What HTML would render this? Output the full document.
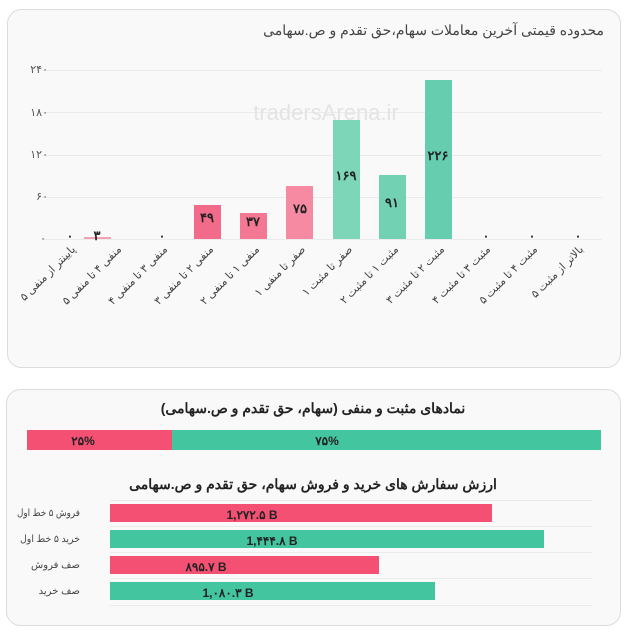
<!DOCTYPE html>
<html><head><meta charset="utf-8"><style>
body{margin:0;background:#fff;width:627px;height:632px;overflow:hidden}
svg text{font-family:"Liberation Sans","Noto Sans CJK SC",sans-serif}
</style></head><body>
<svg width="627" height="632" xmlns="http://www.w3.org/2000/svg">
<rect x="7.5" y="9.5" width="613" height="358" rx="14" fill="#f9f9f9" stroke="#dcdcdc"/>
<text x="604" y="35" font-size="14" fill="#444" text-anchor="end">محدوده قیمتی آخرین معاملات سهام،حق تقدم و ص.سهامی</text>
<g stroke="#ebebeb" stroke-width="1">
<line x1="42" y1="70.5" x2="602" y2="70.5"/><line x1="42" y1="112.5" x2="602" y2="112.5"/>
<line x1="42" y1="155.5" x2="602" y2="155.5"/><line x1="42" y1="197.5" x2="602" y2="197.5"/>
<line x1="42" y1="239.5" x2="602" y2="239.5"/></g>
<g font-size="11" fill="#555" text-anchor="end">
<text x="48" y="73">۲۴۰</text><text x="48" y="116">۱۸۰</text><text x="48" y="158">۱۲۰</text><text x="48" y="200">۶۰</text><text x="46" y="242">۰</text></g>
<text x="326" y="120" font-size="22" fill="#e4e4e4" text-anchor="middle">tradersArena.ir</text>
<rect x="84" y="237" width="27" height="2" fill="#f2a0b3"/>
<rect x="194" y="205" width="27" height="34" fill="#f26b8a"/>
<rect x="240" y="213" width="27" height="26" fill="#f47894"/>
<rect x="286" y="186" width="27" height="53" fill="#f78aa3"/>
<rect x="333" y="120" width="27" height="119" fill="#7dd6b8"/>
<rect x="379" y="175" width="27" height="64" fill="#72d1b3"/>
<rect x="425" y="80" width="27" height="159" fill="#66cdaf"/>
<g font-size="13" font-weight="bold" fill="#222" text-anchor="middle">
<text x="97" y="240">۳</text><text x="207" y="222">۴۹</text><text x="253" y="226">۳۷</text>
<text x="300" y="213">۷۵</text><text x="346" y="180">۱۶۹</text><text x="392" y="207">۹۱</text><text x="438" y="160">۲۲۶</text>
</g>
<g font-size="12" font-weight="bold" fill="#222" text-anchor="middle">
<text x="70" y="240">۰</text><text x="162" y="240">۰</text><text x="486" y="240">۰</text><text x="532" y="240">۰</text><text x="578" y="240">۰</text></g>
<g font-size="11" fill="#444" text-anchor="end">
<text transform="translate(76,250) rotate(-45)">پایینتر از منفی ۵</text>
<text transform="translate(122,250) rotate(-45)">منفی ۴ تا منفی ۵</text>
<text transform="translate(168,250) rotate(-45)">منفی ۳ تا منفی ۴</text>
<text transform="translate(214,250) rotate(-45)">منفی ۲ تا منفی ۳</text>
<text transform="translate(260,250) rotate(-45)">منفی ۱ تا منفی ۲</text>
<text transform="translate(306,250) rotate(-45)">صفر تا منفی ۱</text>
<text transform="translate(353,250) rotate(-45)">صفر تا مثبت ۱</text>
<text transform="translate(399,250) rotate(-45)">مثبت ۱ تا مثبت ۲</text>
<text transform="translate(445,250) rotate(-45)">مثبت ۲ تا مثبت ۳</text>
<text transform="translate(491,250) rotate(-45)">مثبت ۳ تا مثبت ۴</text>
<text transform="translate(538,250) rotate(-45)">مثبت ۴ تا مثبت ۵</text>
<text transform="translate(584,250) rotate(-45)">بالاتر از مثبت ۵</text>
</g>
<rect x="6.5" y="389.5" width="614" height="236" rx="14" fill="#f9f9f9" stroke="#dcdcdc"/>
<text x="313" y="413" font-size="14" font-weight="bold" fill="#222" text-anchor="middle">نمادهای مثبت و منفی (سهام، حق تقدم و ص.سهامی)</text>
<rect x="27" y="430" width="145" height="20" fill="#f45073"/>
<rect x="172" y="430" width="429" height="20" fill="#43c59f"/>
<text x="83" y="445" font-size="12" font-weight="bold" fill="#222" text-anchor="middle">۲۵%</text>
<text x="327" y="445" font-size="12" font-weight="bold" fill="#222" text-anchor="middle">۷۵%</text>
<text x="313" y="489" font-size="14" font-weight="bold" fill="#222" text-anchor="middle">ارزش سفارش های خرید و فروش سهام، حق تقدم و ص.سهامی</text>
<g stroke="#ebebeb"><line x1="110" y1="500.5" x2="592" y2="500.5"/><line x1="110" y1="526.5" x2="592" y2="526.5"/><line x1="110" y1="552.5" x2="592" y2="552.5"/><line x1="110" y1="578.5" x2="592" y2="578.5"/><line x1="110" y1="605.5" x2="592" y2="605.5"/></g>
<rect x="110" y="504" width="382" height="18" fill="#f45073"/>
<rect x="110" y="530" width="434" height="18" fill="#43c59f"/>
<rect x="110" y="556" width="269" height="18" fill="#f45073"/>
<rect x="110" y="582" width="325" height="18" fill="#43c59f"/>
<g font-size="12" font-weight="bold" fill="#222" text-anchor="middle">
<text x="252" y="519">1,۲۷۲.۵ B</text><text x="272" y="545">1,۴۴۴.۸ B</text>
<text x="206" y="571">۸۹۵.۷ B</text><text x="228" y="597">1,۰۸۰.۳ B</text></g>
<g font-size="10" fill="#444" text-anchor="end">
<text x="80" y="516" textLength="63" lengthAdjust="spacingAndGlyphs">فروش ۵ خط اول</text>
<text x="80" y="542" textLength="60" lengthAdjust="spacingAndGlyphs">خرید ۵ خط اول</text>
<text x="80" y="568">صف فروش</text><text x="80" y="594">صف خرید</text></g>
</svg>
</body></html>
